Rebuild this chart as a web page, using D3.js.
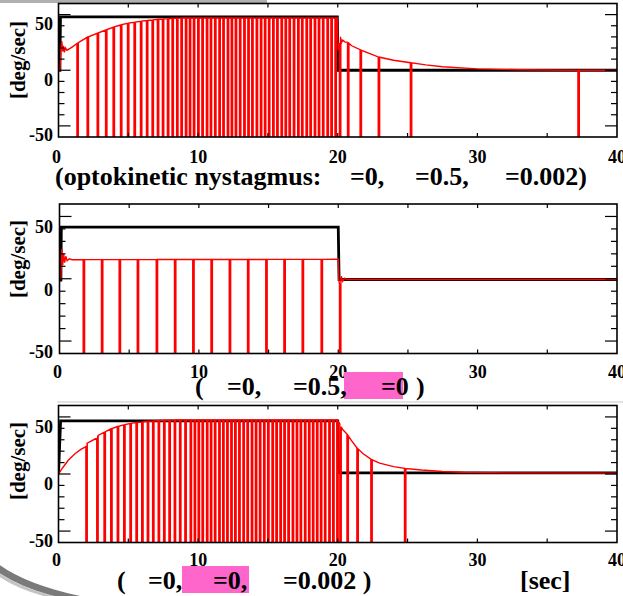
<!DOCTYPE html>
<html>
<head>
<meta charset="utf-8">
<script src="https://cdn.jsdelivr.net/npm/d3@7"></script>
<style>
  html, body { margin: 0; padding: 0; background: #fff; }
  svg { display: block; }
  text { font-family: "Liberation Serif", "Times New Roman", serif; font-weight: bold; fill: #000; }
</style>
</head>
<body>
<svg id="chart" width="623" height="596"></svg>
<script>
/* ============================
   DATA
============================ */
const xTickLabels = [0, 10, 20, 30, 40];
const yTickLabels = [-50, 0, 50];

// panel 1 : optokinetic nystagmus
const p1Black = [[0, 10], [0.1, 10], [0.14, 58], [19.97, 58], [20.02, 10], [40, 10]];
const p1Slow = [
  [0, 10], [0.1, 10], [0.18, 30], [0.24, 36], [0.3, 27], [0.36, 32], [0.42, 26], [0.5, 30],
  [0.6, 28], [0.8, 29.5], [1.0, 31], [1.32, 34], [2.05, 39.6], [2.77, 43.2], [3.37, 46.2],
  [3.91, 48.6], [4.44, 50.7], [4.94, 52.2], [5.41, 53.1], [5.87, 54], [6.3, 54.6], [6.7, 55.2],
  [7.08, 55.8], [7.44, 56.1], [7.8, 56.4], [8.13, 56.7], [8.46, 56.8], [8.77, 57], [19.97, 57],
  [20.03, 28], [20.1, 33], [20.2, 40], [20.28, 35], [20.36, 37], [20.5, 35.5], [20.72, 35],
  [21.0, 32], [21.6, 28.5], [22.3, 25], [22.9, 22], [24, 19], [25.2, 16.8], [26.3, 14.8],
  [27.5, 13.2], [30, 11.2], [33, 10.4], [37, 10], [40, 10]
];
const p1Saccades = [
  1.32, 2.05, 2.77, 3.37, 3.91, 4.44, 4.94, 5.41, 5.87, 6.3, 6.7, 7.08, 7.44, 7.8, 8.13, 8.46,
  8.77, 9.09, 9.37, 9.66, 9.97, 10.27, 10.59, 10.87, 11.18, 11.49, 11.77, 12.09, 12.37, 12.66,
  12.96, 13.27, 13.56, 13.84, 14.16, 14.46, 14.75, 15.04, 15.34, 15.63, 15.94, 16.23, 16.51,
  16.82, 17.13, 17.41, 17.73, 18.01, 18.32, 18.61, 18.91, 19.23, 19.51, 19.8, 20.12, 20.7,
  21.6, 22.9, 25.2, 37.2
];

// panel 2
const p2Black = [[0, 9], [0.1, 9], [0.13, 51.5], [20.0, 51.5], [20.06, 9.4], [40, 9.4]];
const p2Slow = [
  [0, 10], [0.1, 10], [0.17, 34], [0.23, 21], [0.3, 30], [0.37, 23], [0.45, 28], [0.55, 24.5],
  [0.7, 26], [0.9, 25.3], [20.0, 25.6], [20.03, 9.5], [20.12, 4], [20.22, 12], [20.32, 8],
  [20.45, 10.5], [20.6, 9.4], [40, 9.4]
];
const p2Saccades = [1.7, 3.01, 4.28, 5.58, 6.94, 8.25, 9.56, 10.87, 12.18, 13.49, 14.8, 16.1, 17.41, 18.77, 20.09];

// panel 3
const p3Black = [[0, 10], [0.15, 56.5], [20.0, 56.5], [20.05, 11], [40, 11]];
const p3Slow = [
  [0, 10], [0.3, 15.5], [0.7, 22], [1.2, 28], [1.6, 31.5], [1.96, 34], [2.05, 37], [2.74, 41.5],
  [2.8, 43.5], [3.26, 46.4], [3.74, 49.4], [4.21, 51.5], [4.67, 53], [5.12, 54.1], [5.55, 55],
  [5.96, 55.6], [6.36, 56.1], [6.74, 56.5], [7.5, 57], [8.5, 57.3], [19.95, 57.3], [20.1, 55],
  [20.35, 49], [20.66, 45], [20.8, 42.5], [21.0, 39], [21.37, 33], [21.8, 28], [22.37, 23],
  [23, 19.5], [24, 16.5], [24.78, 15], [26, 13.5], [27.5, 12.2], [29, 11.5], [32, 11], [40, 10.8]
];
const p3Saccades = [
  1.96, 2.74, 3.26, 3.74, 4.21, 4.67, 5.12, 5.55, 5.96, 6.36, 6.74, 7.14, 7.53, 7.91, 8.29,
  8.67, 9.05, 9.43, 9.72, 10.0, 10.28, 10.6, 10.88, 11.17, 11.48, 11.76, 12.05, 12.34, 12.62,
  12.91, 13.21, 13.5, 13.81, 14.1, 14.39, 14.69, 14.98, 15.29, 15.57, 15.86, 16.14, 16.43,
  16.74, 17.03, 17.31, 17.62, 17.91, 18.19, 18.48, 18.76, 19.05, 19.36, 19.64, 19.93, 20.15,
  20.66, 21.37, 22.37, 24.78
];

/* ============================
   LAYOUT
============================ */
const RIGHT = 617;
const Y_DOMAIN = [-50, 70];
const FLOOR = -65;      // saccades run below the frame and get clipped
const SAC_W = 0.1;      // saccade width in sec

const panels = [
  { top: 3.5, bottom: 137, left: 58.5, black: p1Black, slow: p1Slow, sacc: p1Saccades, xLabY: 163, yLabY: 60 },
  { top: 204, bottom: 353.5, left: 59.5, black: p2Black, slow: p2Slow, sacc: p2Saccades, xLabY: 378, yLabY: 259 },
  { top: 405.5, bottom: 542.5, left: 58.5, black: p3Black, slow: p3Slow, sacc: p3Saccades, xLabY: 565.5, yLabY: 461 }
];

const svg = d3.select("#chart");

// screenshot artefacts
svg.append("rect").attr("x", 0).attr("y", 0).attr("width", 267).attr("height", 3).attr("fill", "#b0b0b0");
svg.append("line").attr("x1", 57).attr("x2", 623).attr("y1", 402).attr("y2", 402)
  .attr("stroke", "#c8c8c8").attr("stroke-width", 1.2);
svg.append("path").attr("d", "M-2,568 Q26,588 82,600").attr("fill", "none")
  .attr("stroke", "#7a7a7a").attr("stroke-width", 7);
svg.append("path").attr("d", "M-2,574 Q22,591 66,600").attr("fill", "none")
  .attr("stroke", "#c4c4c4").attr("stroke-width", 3);

function redPoints(slow, sacc) {
  const env = d3.scaleLinear().domain(slow.map(d => d[0])).range(slow.map(d => d[1]));
  const pts = slow.map(d => ({ t: d[0], v: d[1], o: -1 }));
  sacc.forEach(s => {
    pts.push(
      { t: s, v: env(s), o: 0 },
      { t: s, v: FLOOR, o: 1 },
      { t: s + SAC_W, v: FLOOR, o: 2 },
      { t: s + SAC_W, v: env(s + SAC_W), o: 3 }
    );
  });
  pts.sort((a, b) => a.t - b.t || a.o - b.o);
  return pts;
}

panels.forEach((p, i) => {
  const x = d3.scaleLinear().domain([0, 40]).range([p.left, RIGHT]);
  const y = d3.scaleLinear().domain(Y_DOMAIN).range([p.bottom, p.top]);
  const g = svg.append("g");

  const clipId = "clip" + i;
  g.append("clipPath").attr("id", clipId).append("rect")
    .attr("x", p.left).attr("y", p.top)
    .attr("width", RIGHT - p.left).attr("height", p.bottom - p.top);

  const plot = g.append("g").attr("clip-path", `url(#${clipId})`);

  const line = d3.line().x(d => x(d[0])).y(d => y(d[1]));
  plot.append("path")
    .attr("d", line(p.black))
    .attr("fill", "none").attr("stroke", "#000").attr("stroke-width", 2.8);

  const red = d3.line().x(d => x(d.t)).y(d => y(d.v));
  plot.append("path")
    .attr("d", red(redPoints(p.slow, p.sacc)))
    .attr("fill", "none").attr("stroke", "#ff0000").attr("stroke-width", 1.4)
    .attr("stroke-linejoin", "miter");

  // frame
  g.append("rect")
    .attr("x", p.left).attr("y", p.top)
    .attr("width", RIGHT - p.left).attr("height", p.bottom - p.top)
    .attr("fill", "none").attr("stroke", "#000").attr("stroke-width", 1.6);

  // x ticks every 5 sec, inward top and bottom
  d3.range(5, 40, 5).forEach(t => {
    g.append("line").attr("x1", x(t)).attr("x2", x(t)).attr("y1", p.bottom).attr("y2", p.bottom - 4)
      .attr("stroke", "#000").attr("stroke-width", 1.2);
    g.append("line").attr("x1", x(t)).attr("x2", x(t)).attr("y1", p.top).attr("y2", p.top + 4)
      .attr("stroke", "#000").attr("stroke-width", 1.2);
  });

  // y ticks every 10, long ones at 60, 10, -40
  d3.range(-40, 70, 10).forEach(v => {
    const len = (v === 60 || v === 10 || v === -40) ? 12 : 6;
    g.append("line").attr("x1", p.left).attr("x2", p.left + len).attr("y1", y(v)).attr("y2", y(v))
      .attr("stroke", "#000").attr("stroke-width", 1.2);
    g.append("line").attr("x1", RIGHT).attr("x2", RIGHT - len).attr("y1", y(v)).attr("y2", y(v))
      .attr("stroke", "#000").attr("stroke-width", 1.2);
  });

  // tick labels
  g.selectAll(".xl").data(xTickLabels).enter().append("text")
    .attr("x", d => x(d) - (d === 0 ? 2 : 0)).attr("y", p.xLabY)
    .attr("text-anchor", "middle").attr("font-size", 18)
    .text(d => d);

  g.selectAll(".yl").data(yTickLabels).enter().append("text")
    .attr("x", 53).attr("y", d => y(d) - 2).attr("dy", "0.35em")
    .attr("text-anchor", "end").attr("font-size", 18)
    .text(d => d);

  g.append("text")
    .attr("transform", `translate(25,${p.yLabY}) rotate(-90)`)
    .attr("text-anchor", "middle").attr("font-size", 21)
    .text("[deg/sec]");
});

/* ============================
   CAPTIONS (greek symbols are blank in the original)
============================ */
function caption(pieces, yBase) {
  pieces.forEach(([xp, txt]) => {
    svg.append("text").attr("x", xp).attr("y", yBase).attr("font-size", 26)
      .attr("xml:space", "preserve").text(txt);
  });
}

caption([[55, "(optokinetic nystagmus:"], [350, "=0,"], [415, "=0.5,"], [505, "=0.002)"]], 185);

svg.append("rect").attr("x", 344).attr("y", 372).attr("width", 59).attr("height", 27).attr("fill", "#ff66cc");
caption([[195, "("], [227, "=0,"], [293, "=0.5,"], [381, "=0"], [416, ")"]], 395);

svg.append("rect").attr("x", 182).attr("y", 566).attr("width", 67).attr("height", 27).attr("fill", "#ff66cc");
caption([[117, "("], [148, "=0,"], [213, "=0,"], [283, "=0.002 )"], [520, "[sec]"]], 589);
</script>
</body>
</html>
